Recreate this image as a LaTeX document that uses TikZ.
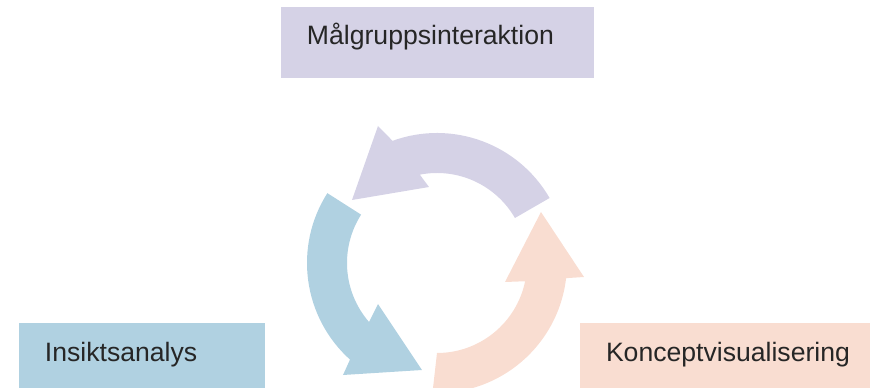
\documentclass[tikz,border=0pt]{standalone}
\usepackage{fontspec}
\setmainfont{Liberation Sans}
\usepackage{xcolor}
\usepackage{tikz}
\definecolor{lila}{HTML}{D5D2E6}
\definecolor{ljusbla}{HTML}{B0D1E1}
\definecolor{persika}{HTML}{F9DDD1}
\definecolor{textgra}{HTML}{262626}
\tikzstyle{box} = [rectangle, inner xsep=26pt, minimum height=71pt, align=left,
    text height=18pt, text depth=13pt, text=textgra, font=\fontsize{26.6}{30}\selectfont]

\begin{document}
\begin{tikzpicture}[x=1pt,y=1pt]
  \useasboundingbox (-437,-125) rectangle (433,263);

  % boxes
  \node [box, fill=lila, minimum width=313pt, text width=261pt] (malgrupp) at (0.5,220.5) {Målgruppsinteraktion};
  \node [box, fill=ljusbla, minimum width=246pt, text width=194pt] (insikt) at (-295,-95.5) {Insiktsanalys};
  \node [box, fill=persika, minimum width=297pt, text width=245pt] (koncept) at (291.5,-95.5) {Konceptvisualisering};

  % cycle arrows
  \fill [lila] (30:90) -- (30:130) arc [start angle=30, end angle=110, radius=130pt]
    -- (-59,137) -- (-85,63) -- (-8,76) -- (101:90)
    arc [start angle=101, end angle=30, radius=90pt] -- cycle;
  \fill [ljusbla] (147.5:90) -- (147.5:130) arc [start angle=147.5, end angle=228, radius=130pt]
    -- (-94,-112) -- (-15,-107) -- (-59,-41) -- (221:90)
    arc [start angle=221, end angle=147.5, radius=90pt] -- cycle;
  \fill [persika] (270:90) -- (268:130) arc [start angle=268, end angle=353.3, radius=130pt]
    -- (147,-14) -- (104,51) -- (68,-19) -- (348.3:90)
    arc [start angle=348.3, end angle=270, radius=90pt] -- cycle;

\end{tikzpicture}
\end{document}
